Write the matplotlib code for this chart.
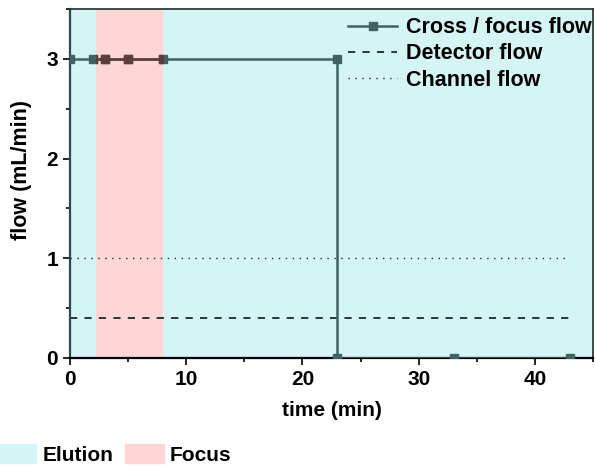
import matplotlib
matplotlib.use('Agg')
from matplotlib import pyplot as plt
from matplotlib.patches import Patch, Rectangle
from matplotlib.ticker import MultipleLocator

plt.rcParams['font.family'] = ['Liberation Sans', 'DejaVu Sans']
plt.rcParams['font.weight'] = 'bold'

# cross / focus flow program (min, mL/min)
cross_t = [0, 2, 3, 5, 8, 23, 23, 33, 43]
cross_flow = [3, 3, 3, 3, 3, 3, 0, 0, 0]

detector_t = [0, 43]
detector_flow = [0.4, 0.4]

channel_t = [0, 43]
channel_flow = [1, 1]

focus_start, focus_end = 2.2, 8
x_max, y_max = 45, 3.5

line_c = '#3f6262'
line_in_focus_c = '#5e3d3d'
elution_c = '#d5f5f5'
focus_c = '#ffd6d6'

fig = plt.figure(figsize=(5.95, 4.66), dpi=100)
ax = fig.add_axes([0.1176, 0.2318, 0.879, 0.749])
ax.set_facecolor(elution_c)

ax.axvspan(focus_start, focus_end, color=focus_c, lw=0, zorder=1)
ax.plot(cross_t, cross_flow, c=line_c, lw=1.8, marker='s', ms=5.5, label='Cross / focus flow', zorder=3)
# same trace again, tinted where it crosses the focus band
tinted, = ax.plot(cross_t, cross_flow, c=line_in_focus_c, lw=1.8, marker='s', ms=5.5, zorder=4)
band = Rectangle((focus_start, 0), focus_end - focus_start, y_max, transform=ax.transData)
tinted.set_clip_path(band)

ax.plot(detector_t, detector_flow, c='#1a2a2a', lw=1.3, ls=(0, (4, 4)), label='Detector flow', zorder=2)
ax.plot(channel_t, channel_flow, c='#1a2a2a', lw=1.0, ls=(0, (1, 4)), label='Channel flow', zorder=2)

ax.set_xlim(0, x_max)
ax.set_ylim(0, y_max)
ax.xaxis.set_major_locator(MultipleLocator(10))
ax.xaxis.set_minor_locator(MultipleLocator(5))
ax.yaxis.set_major_locator(MultipleLocator(1))
ax.yaxis.set_minor_locator(MultipleLocator(0.5))
ax.tick_params(which='both', direction='out', labelsize=15, width=1.2)
ax.tick_params(which='major', length=5)
ax.tick_params(which='minor', length=3)
for side in ['left', 'bottom']:
    ax.spines[side].set_linewidth(1.6)
for side in ['top', 'right']:
    ax.spines[side].set_linewidth(1.2)
    ax.spines[side].set_color('#1e2e2e')
ax.spines['left'].set_color('#2e4a4a')

ax.set_xlabel('time (min)', fontsize=15, fontweight='bold', labelpad=9)
ax.set_ylabel('flow (mL/min)', fontsize=15.5, fontweight='bold')
ax.yaxis.set_label_coords(-0.072, 0.54)

ax.legend(loc='upper right', bbox_to_anchor=(1.012, 0.998), frameon=False, fontsize=15.5,
          handlelength=2.3, borderaxespad=0, labelspacing=0.24, handletextpad=0.4, borderpad=0.35)

fig.legend(handles=[Patch(color=elution_c, label='Elution'), Patch(color=focus_c, label='Focus')],
           loc='center left', bbox_to_anchor=(-0.035, 0.025), ncol=2, frameon=False, fontsize=15,
           handlelength=1.85, handleheight=1.05, columnspacing=0.55, handletextpad=0.3)

fig.savefig('out.png', dpi=100)
